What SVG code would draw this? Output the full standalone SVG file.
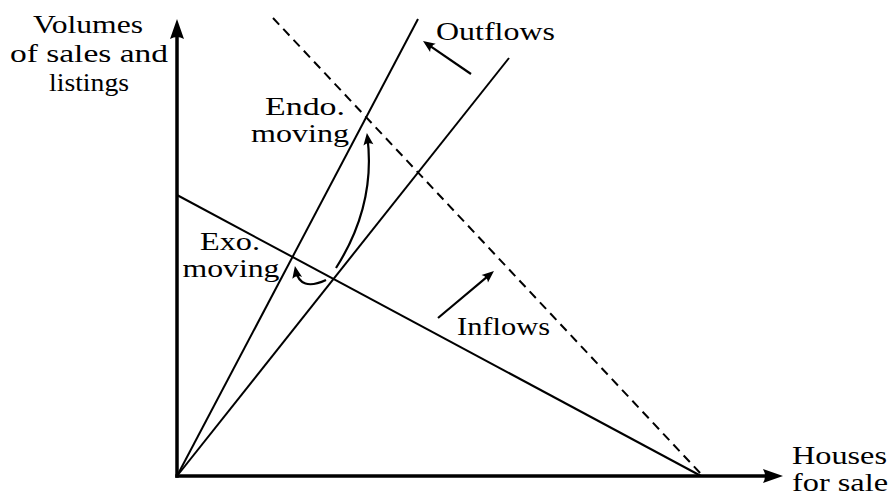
<svg xmlns="http://www.w3.org/2000/svg" width="892" height="502" viewBox="0 0 892 502">
<style>
.ax{stroke:#000;stroke-width:3.5;fill:none}
.ln{stroke:#000;stroke-width:2;fill:none}
.ds{stroke-dasharray:9 6}
.ar{stroke:#000;stroke-width:2.2;fill:none;marker-end:url(#sm)}
text{font-family:"Liberation Serif","DejaVu Serif",serif;font-size:26px;fill:#000}
</style>
<defs>
<marker id="big" markerUnits="userSpaceOnUse" orient="auto" markerWidth="30" markerHeight="30" viewBox="-5 -10 30 20" refX="0" refY="0" overflow="visible"><path d="M18,0 L-2,-7 Q2,0 -2,7 Z" fill="#000"/></marker>
<marker id="sm" markerUnits="userSpaceOnUse" orient="auto" markerWidth="20" markerHeight="20" viewBox="-10 -10 20 20" refX="0" refY="0" overflow="visible"><path d="M4,0 L-8,-5 Q-4.5,0 -8,5 Z" fill="#000"/></marker>
</defs>
<g id="connectors">
<line class="ax" x1="177" y1="477.7" x2="177" y2="37" marker-end="url(#big)"/>
<line class="ax" x1="175.3" y1="476" x2="765" y2="476" marker-end="url(#big)"/>
<line class="ln" x1="177" y1="476" x2="418" y2="19"/>
<line class="ln" x1="177" y1="476" x2="509" y2="58"/>
<line class="ln" x1="177" y1="195" x2="701" y2="476"/>
<line class="ln ds" x1="273" y1="18" x2="702" y2="475"/>
<path class="ar" d="M471,74 L426.3,43.3"/>
<path class="ar" d="M438,318 L490.9,273.6"/>
<path class="ar" d="M336,268 Q376,205 367.4,137"/>
<path class="ar" d="M326,280 Q300,292 295.7,270"/>
</g>
<g id="ylabel">
<text x="88" y="33" text-anchor="middle" textLength="110" lengthAdjust="spacingAndGlyphs">Volumes</text>
<text x="89" y="62" text-anchor="middle" textLength="158" lengthAdjust="spacingAndGlyphs">of sales and</text>
<text x="89" y="91" text-anchor="middle" textLength="80" lengthAdjust="spacingAndGlyphs">listings</text>
</g>
<g id="xlabel">
<text x="792" y="464" textLength="95" lengthAdjust="spacingAndGlyphs" font-size="25">Houses</text>
<text x="792" y="491" textLength="96" lengthAdjust="spacingAndGlyphs" font-size="25">for sale</text>
</g>
<g id="endo">
<text x="305" y="115" text-anchor="middle" textLength="80" lengthAdjust="spacingAndGlyphs">Endo.</text>
<text x="300" y="142" text-anchor="middle" textLength="98" lengthAdjust="spacingAndGlyphs">moving</text>
</g>
<g id="exo">
<text x="230" y="250" text-anchor="middle" textLength="60" lengthAdjust="spacingAndGlyphs" font-size="25">Exo.</text>
<text x="231" y="277" text-anchor="middle" textLength="97" lengthAdjust="spacingAndGlyphs" font-size="25">moving</text>
</g>
<g id="outflows">
<text x="436" y="40" textLength="119" lengthAdjust="spacingAndGlyphs">Outflows</text>
</g>
<g id="inflows">
<text x="457" y="335" textLength="93" lengthAdjust="spacingAndGlyphs">Inflows</text>
</g>
</svg>
